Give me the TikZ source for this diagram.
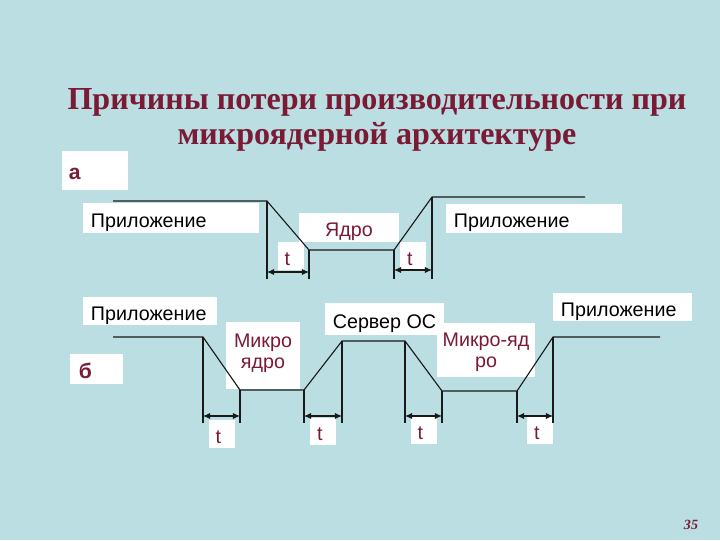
\documentclass[tikz,border=0pt]{standalone}
\usepackage{fontspec}
\setmainfont{Liberation Serif}
\setsansfont{Liberation Sans}
\usetikzlibrary{arrows.meta}
\definecolor{slidebg}{RGB}{187,222,226}
\definecolor{wine}{RGB}{122,26,53}

\begin{document}
\begin{tikzpicture}[
  x=0.025cm,y=-0.025cm,
  every node/.style={inner sep=0pt,font=\sffamily\fontsize{14}{16}\selectfont},
  wbox/.style={fill=white,inner xsep=0.2cm,text height=12.8pt,text depth=0pt},
  twoline/.style={fill=white,text=wine,font=\sffamily\fontsize{14}{15}\selectfont},
  tbox/.style={wbox,inner xsep=0.175cm,text width=0.3cm,align=left,text=wine,minimum height=0.675cm},
  letter/.style={wbox,align=left,text=wine,font=\sffamily\bfseries\fontsize{15}{17}\selectfont},
  title/.style={font=\rmfamily\bfseries\fontsize{22.8}{24}\selectfont,text=wine,anchor=base},
  wave/.style={line width=0.8pt,draw=black!90},
  dim/.style={{Latex[length=5pt,width=4.5pt]}-{Latex[length=5pt,width=4.5pt]},line width=0.8pt,draw=black!90}
]
\fill[slidebg] (0,0) rectangle (720,540);
\useasboundingbox (0,0) rectangle (720,540);
% Title
\node[title] (title1) at (377,109) {Причины потери производительности при};
\node[title] (title2) at (377,144) {микроядерной архитектуре};
\node[font=\rmfamily\bfseries\itshape\fontsize{10}{12}\selectfont,text=wine] (page) at (691,525) {35};
% Case a: labels
\node[letter,minimum height=0.975cm,inner xsep=0.175cm,text width=1.3cm] (lblA) at (95,170.5) {а};
\node[wbox,minimum height=0.75cm,text width=4.0cm,align=left] (appA1) at (171,218) {Приложение};
\node[wbox,minimum width=2.5cm,minimum height=0.725cm,text=wine] (kernA) at (349,227.5) {Ядро};
\node[wbox,minimum height=0.725cm,text width=4.0cm,align=left] (appA2) at (534,218.5) {Приложение};
\node[tbox,minimum height=0.7cm] (tA1) at (290.5,256) {t};
\node[tbox,minimum height=0.7cm] (tA2) at (413,256) {t};
% Case a: waveform
\coordinate (a0) at (113,201);
\coordinate (a1) at (267,201);
\coordinate (a2) at (309,250);
\coordinate (a3) at (394,250);
\coordinate (a4) at (432,197);
\coordinate (a5) at (585,197);
\draw[wave] (a0) -- (a1) -- (a2) -- (a3) -- (a4) -- (a5);
\foreach \p in {a1,a2,a3,a4}
  \draw[wave] (\p) -- (\p |- 0,279);
\draw[dim] (a1 |- 0,272) -- (a2 |- 0,272);
\draw[dim] (a3 |- 0,270) -- (a4 |- 0,270);
% Case b: labels
\node[letter,minimum height=0.75cm,inner xsep=0.225cm,text width=0.875cm] (lblB) at (96.5,369) {б};
\node[wbox,minimum height=0.7cm,text width=2.95cm,align=left] (appB1) at (150,311) {Приложение};
\node[twoline,minimum width=1.85cm,minimum height=1.675cm,text height=0pt,text depth=12pt] (microB1) at (263,355.5)
  {\begin{tabular}[t]{@{}c@{}}Микро\\ядро\end{tabular}};
\node[wbox,minimum width=2.975cm,minimum height=0.8cm] (server) at (384.5,319) {Сервер ОС};
\node[twoline,minimum width=2.45cm,minimum height=1.35cm,text height=0pt,text depth=5.7pt] (microB2) at (486,350)
  {\begin{tabular}[t]{@{}c@{}}Микро-яд\\ро\end{tabular}};
\node[wbox,minimum height=0.7cm,text width=3.075cm,align=left] (appB2) at (622.5,307) {Приложение};
\node[tbox,minimum height=0.7cm] (tB1) at (221.5,434) {t};
\node[tbox] (tB2) at (323,431) {t};
\node[tbox] (tB3) at (423.5,430.5) {t};
\node[tbox] (tB4) at (540,430.5) {t};
% Case b: waveform
\coordinate (b0) at (113,337);
\coordinate (b1) at (203,337);
\coordinate (b2) at (240,390);
\coordinate (b3) at (304,390);
\coordinate (b4) at (342,341);
\coordinate (b5) at (405,341);
\coordinate (b6) at (442,391);
\coordinate (b7) at (517,391);
\coordinate (b8) at (553,337);
\coordinate (b9) at (660,337);
\draw[wave] (b0) -- (b1) -- (b2) -- (b3) -- (b4) -- (b5) -- (b6) -- (b7) -- (b8) -- (b9);
\foreach \p in {b1,b2,b3,b4,b5,b6,b7,b8}
  \draw[wave] (\p) -- (\p |- 0,423);
\draw[dim] (b1 |- 0,416) -- (b2 |- 0,416);
\draw[dim] (b3 |- 0,416) -- (b4 |- 0,416);
\draw[dim] (b5 |- 0,416) -- (b6 |- 0,416);
\draw[dim] (b7 |- 0,416) -- (b8 |- 0,416);
\end{tikzpicture}
\end{document}
